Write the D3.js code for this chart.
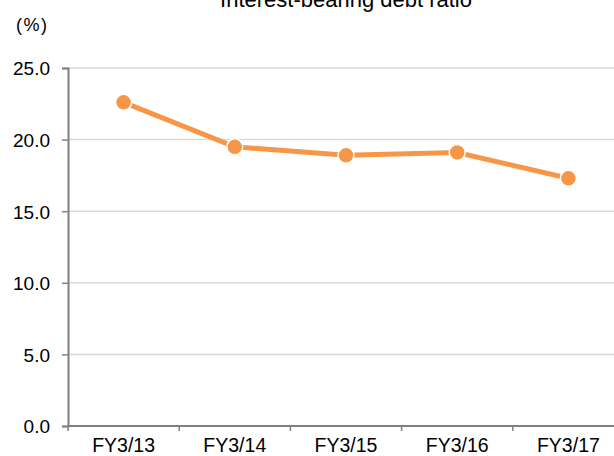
<!DOCTYPE html>
<html>
<head>
<meta charset="UTF-8" />
<style>
    body { margin: 0; padding: 0; background: #fff; }
    text { font-family: "Liberation Sans", Arial, sans-serif; fill: #000; }
    .grid line { stroke: #d9d9d9; stroke-width: 1.5px; }
</style>
</head>
<body>
<svg width="614" height="456"></svg>
<script src="https://d3js.org/d3.v7.min.js"></script>
<script>
    const categories = ["FY3/13", "FY3/14", "FY3/15", "FY3/16", "FY3/17"]
    const ratio = [22.6, 19.5, 18.9, 19.1, 17.3]
    const yTicks = [0, 5, 10, 15, 20, 25]

    const svg = d3.select("svg")
    const plotLeft = 68, plotRight = 624, plotTop = 68, plotBottom = 426

    const x = d3.scaleBand().domain(categories).range([plotLeft, plotRight])
    const y = d3.scaleLinear().domain([0, 25]).range([plotBottom, plotTop])

    // gridlines
    svg.append("g").attr("class", "grid")
        .selectAll("line").data(yTicks.filter(d => d > 0)).enter().append("line")
        .attr("x1", plotLeft).attr("x2", 614)
        .attr("y1", d => y(d)).attr("y2", d => y(d))

    // y axis
    const yAxis = svg.append("g")
        .attr("transform", `translate(${plotLeft},0)`)
        .call(d3.axisLeft(y).tickValues(yTicks).tickFormat(d3.format(".1f")).tickSize(6).tickPadding(12))
    yAxis.select(".domain").attr("stroke", "#808080").attr("stroke-width", 2)
    yAxis.selectAll(".tick line").attr("stroke", "#808080").attr("stroke-width", 1.5)
    yAxis.selectAll("text").style("font-size", "19px").attr("fill", "#000")
        .attr("font-family", null).attr("dy", "0.36em")

    // x axis, ticks on band edges
    const xAxis = svg.append("g").attr("transform", `translate(0,${plotBottom})`)
    xAxis.append("line").attr("x1", plotLeft).attr("x2", 614).attr("stroke", "#808080").attr("stroke-width", 2)
    xAxis.selectAll(".xt").data(categories).enter().append("line")
        .attr("x1", d => x(d)).attr("x2", d => x(d))
        .attr("y1", 0).attr("y2", 5)
        .attr("stroke", "#808080").attr("stroke-width", 1.5)
    xAxis.selectAll(".xl").data(categories).enter().append("text")
        .attr("x", d => x(d) + x.bandwidth() / 2)
        .attr("y", 26)
        .attr("text-anchor", "middle")
        .style("font-size", "19.5px")
        .text(d => d)

    // line
    const pts = categories.map((c, i) => [x(c) + x.bandwidth() / 2, y(ratio[i])])
    svg.append("path")
        .attr("d", d3.line()(pts))
        .attr("fill", "none")
        .attr("stroke", "#f79646")
        .attr("stroke-width", 5)

    svg.selectAll(".dot").data(pts).enter().append("circle")
        .attr("cx", d => d[0]).attr("cy", d => d[1])
        .attr("r", 8)
        .attr("fill", "#f79646")
        .attr("stroke", "#fff")
        .attr("stroke-width", 1.5)

    // title + unit
    svg.append("text")
        .attr("x", 346).attr("y", 7)
        .attr("text-anchor", "middle")
        .style("font-size", "22px")
        .text("Interest-bearing debt ratio")
    svg.append("text")
        .attr("x", 16).attr("y", 31)
        .style("font-size", "18px")
        .attr("letter-spacing", "1.5")
        .text("(%)")
</script>
</body>
</html>
